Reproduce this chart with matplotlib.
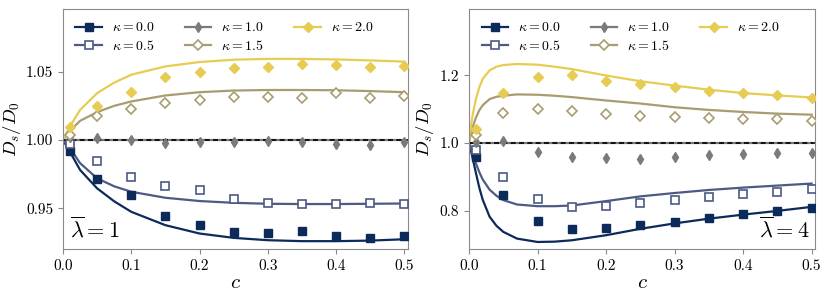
import matplotlib
matplotlib.use("Agg")
import matplotlib.pyplot as plt
from matplotlib.lines import Line2D
from matplotlib.ticker import FixedLocator, FormatStrFormatter

plt.rcParams['font.family'] = 'serif'
plt.rcParams['font.serif'] = ['cmr10', 'DejaVu Serif']
plt.rcParams['mathtext.fontset'] = 'cm'
plt.rcParams['axes.formatter.use_mathtext'] = True

# simulation points (same c for every series)
c_pts = [0.01, 0.05, 0.1, 0.15, 0.2, 0.25, 0.3, 0.35, 0.4, 0.45, 0.5]

# lambda = 1 panel
l1_k00 = [0.992, 0.9711, 0.9593, 0.9446, 0.9378, 0.9328, 0.9320, 0.9331, 0.9296, 0.9282, 0.9298]
l1_k05 = [0.997, 0.9843, 0.9728, 0.9663, 0.9630, 0.9566, 0.9539, 0.9534, 0.9534, 0.9539, 0.9534]
l1_k10 = [1.0024, 1.0012, 1.0, 0.9975, 0.9983, 0.9983, 0.9993, 0.9983, 0.9968, 0.9963, 0.9983]
l1_k15 = [1.0037, 1.0174, 1.0230, 1.0272, 1.0294, 1.0312, 1.0318, 1.0305, 1.0342, 1.0305, 1.0323]
l1_k20 = [1.0098, 1.0252, 1.0348, 1.0461, 1.0498, 1.0527, 1.0535, 1.0553, 1.0550, 1.0532, 1.0545]

# theory curves, lambda = 1
c_th1 = [0, 0.01, 0.025, 0.05, 0.075, 0.1, 0.15, 0.2, 0.25, 0.3, 0.35, 0.4, 0.45, 0.5]
th1_k00 = [1.0, 0.9914, 0.978, 0.9645, 0.955, 0.9473, 0.9375, 0.9314, 0.9282, 0.9265, 0.9258, 0.9258, 0.9262, 0.9272]
th1_k05 = [1.0, 0.994, 0.983, 0.9718, 0.966, 0.962, 0.9576, 0.9552, 0.9539, 0.9532, 0.953, 0.953, 0.9532, 0.9534]
th1_k10 = [1.0] * 14
th1_k15 = [1.0, 1.0066, 1.014, 1.0204, 1.025, 1.0282, 1.0326, 1.0350, 1.0362, 1.0366, 1.0366, 1.0364, 1.0358, 1.035]
th1_k20 = [1.0, 1.0098, 1.022, 1.0343, 1.042, 1.0478, 1.0539, 1.0571, 1.0588, 1.0594, 1.0594, 1.059, 1.0583, 1.0574]

# lambda = 4 panel
l4_k00 = [0.958, 0.846, 0.768, 0.744, 0.747, 0.756, 0.767, 0.778, 0.789, 0.799, 0.808]
l4_k05 = [0.979, 0.900, 0.835, 0.811, 0.814, 0.821, 0.831, 0.841, 0.849, 0.856, 0.863]
l4_k10 = [1.004, 1.006, 0.972, 0.958, 0.955, 0.954, 0.959, 0.964, 0.967, 0.971, 0.971]
l4_k15 = [1.024, 1.089, 1.101, 1.094, 1.086, 1.079, 1.077, 1.074, 1.071, 1.070, 1.066]
l4_k20 = [1.042, 1.148, 1.196, 1.200, 1.185, 1.175, 1.165, 1.155, 1.149, 1.143, 1.134]

c_th4 = [0, 0.0025, 0.005, 0.01, 0.015, 0.02, 0.03, 0.04, 0.05, 0.07, 0.1, 0.125, 0.15, 0.2, 0.25, 0.3, 0.35, 0.4, 0.45, 0.5]
th4_k00 = [1.0, 0.980, 0.958, 0.912, 0.868, 0.832, 0.782, 0.755, 0.737, 0.717, 0.707, 0.708, 0.712, 0.727, 0.746, 0.762, 0.776, 0.788, 0.799, 0.811]
th4_k05 = [1.0, 0.985, 0.970, 0.940, 0.914, 0.892, 0.862, 0.844, 0.831, 0.818, 0.813, 0.813, 0.815, 0.828, 0.842, 0.852, 0.861, 0.868, 0.874, 0.880]
th4_k10 = [1.0] * 20
th4_k15 = [1.0, 1.025, 1.045, 1.075, 1.097, 1.112, 1.130, 1.137, 1.140, 1.144, 1.143, 1.140, 1.136, 1.126, 1.117, 1.106, 1.098, 1.092, 1.087, 1.084]
th4_k20 = [1.0, 1.045, 1.08, 1.13, 1.165, 1.19, 1.215, 1.226, 1.231, 1.234, 1.232, 1.226, 1.219, 1.200, 1.183, 1.170, 1.158, 1.148, 1.141, 1.135]

kappas = ['0.0', '0.5', '1.0', '1.5', '2.0']
colors = ['#0c2a5a', '#4c5a84', '#7a7a7a', '#a89c70', '#e6cc52']
markers = ['s', 's', 'd', 'D', 'D']
fills = [True, False, True, False, True]


def style_marker(i):
    if fills[i]:
        return dict(marker=markers[i], color=colors[i], markerfacecolor=colors[i],
                    markeredgecolor=colors[i], markersize=5.5)
    return dict(marker=markers[i], color=colors[i], markerfacecolor='white',
                markeredgecolor=colors[i], markeredgewidth=1.2, markersize=5.5)


def draw_panel(ax, c_th, curves, points, label_x):
    for i in range(5):
        ax.plot(c_th, curves[i], color=colors[i], lw=1.6, zorder=2)
    # reference line drawn over the kappa = 1 curve
    ax.axhline(1.0, color='black', ls='--', lw=1.2, dashes=(3, 2), zorder=2.5)
    for i in range(5):
        ax.plot(c_pts, points[i], ls='none', zorder=3, **style_marker(i))
    ax.set_xlim(0, 0.505)
    ax.xaxis.set_major_locator(FixedLocator([0.0, 0.1, 0.2, 0.3, 0.4, 0.5]))
    ax.xaxis.set_major_formatter(FormatStrFormatter('%.1f'))
    ax.set_xlabel('$c$', fontsize=15, labelpad=1)
    ax.set_ylabel('$D_s/D_0$', fontsize=13.5)
    ax.yaxis.set_label_coords(label_x, 0.5)
    for s in ax.spines.values():
        s.set_color('#8a8a8a')
    ax.tick_params(colors='#8a8a8a', labelcolor='black', labelsize=11, length=3.5)
    handles = [Line2D([0], [0], lw=1.6, **style_marker(i)) for i in range(5)]
    ax.legend(handles, [r'$\kappa=%s$' % k for k in kappas], ncol=3, loc='upper left',
              frameon=False, fontsize=10, handlelength=1.9, columnspacing=2.2,
              handletextpad=0.7, labelspacing=0.3, borderaxespad=0.5)


fig = plt.figure(figsize=(8.31, 2.99), dpi=100)
ax1 = fig.add_axes([0.0758, 0.167, 0.415, 0.803])
ax2 = fig.add_axes([0.5644, 0.167, 0.4164, 0.803])

draw_panel(ax1, c_th1, [th1_k00, th1_k05, th1_k10, th1_k15, th1_k20],
           [l1_k00, l1_k05, l1_k10, l1_k15, l1_k20], -0.115)
ax1.set_ylim(0.92, 1.096)
ax1.yaxis.set_major_locator(FixedLocator([0.95, 1.0, 1.05]))
ax1.yaxis.set_major_formatter(FormatStrFormatter('%.2f'))
ax1.text(0.02, 0.05, r'$\overline{\lambda}=1$', transform=ax1.transAxes, fontsize=16)

draw_panel(ax2, c_th4, [th4_k00, th4_k05, th4_k10, th4_k15, th4_k20],
           [l4_k00, l4_k05, l4_k10, l4_k15, l4_k20], -0.095)
ax2.set_ylim(0.686, 1.397)
ax2.yaxis.set_major_locator(FixedLocator([0.8, 1.0, 1.2]))
ax2.yaxis.set_major_formatter(FormatStrFormatter('%.1f'))
ax2.text(0.985, 0.05, r'$\overline{\lambda}=4$', transform=ax2.transAxes, fontsize=16, ha='right')

fig.savefig('out.png', dpi=100)
